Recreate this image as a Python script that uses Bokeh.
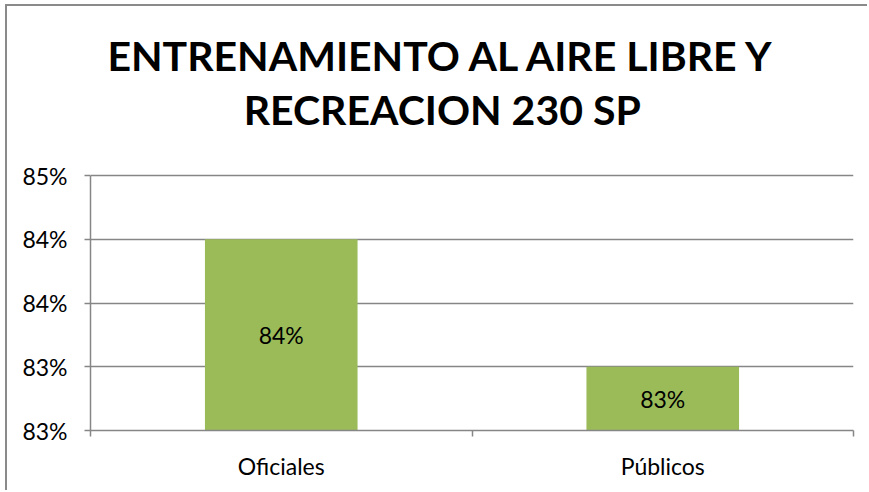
from bokeh.plotting import figure
from bokeh.models import FixedTicker, ColumnDataSource, Range1d
from bokeh.core.properties import value
from bokeh.embed import file_html
from bokeh.resources import INLINE

# ---- data ----
categories = ["Oficiales", "Públicos"]
values = [0.84, 0.83]
value_labels = ["84%", "83%"]
y_ticks = [0.825, 0.830, 0.835, 0.840, 0.845]
y_tick_labels = ["83%", "83%", "84%", "84%", "85%"]
title_lines = ["ENTRENAMIENTO AL AIRE LIBRE Y", "RECREACION 230 SP"]

FONT = "Lato"
GRAY = "#868686"
GREEN = "#9BBB59"

y_min, y_max = y_ticks[0], y_ticks[-1]
span = y_max - y_min
n = len(categories)
xs = [i + 0.5 for i in range(n)]

PLOT_H = 255          # pixel height of the value area
FRAME_H = 424         # frame also holds the title area above the value area
y_top = y_max + span * (FRAME_H - PLOT_H) / PLOT_H

p = figure(
    output_backend="svg", toolbar_location=None,
    frame_width=763, frame_height=FRAME_H,
    min_border_left=83, min_border_right=16,
    min_border_top=0, min_border_bottom=62,
    x_range=Range1d(0, n), y_range=Range1d(y_min, y_top),
)
p.title.visible = False
p.outline_line_color = None
p.background_fill_color = "white"
p.border_fill_color = "white"
p.styles = {"box-shadow": "-2px -2px 0 0 #8a8a8a",
            "margin-left": "7px", "margin-top": "6px"}

src = ColumnDataSource(dict(
    x=xs, top=values, mid=[(y_min + v) / 2 for v in values], lab=value_labels))
p.vbar(x="x", top="top", bottom=y_min, width=0.4, source=src,
       fill_color=GREEN, line_color=None)
p.text(x="x", y="mid", text="lab", source=src, text_align="center",
       text_baseline="middle", text_font_size="23px",
       text_font=value(FONT), text_color="black")

# y axis
ya = p.yaxis[0]
ya.ticker = FixedTicker(ticks=y_ticks)
ya.bounds = (y_min, y_max)
ya.major_label_overrides = {t: l for t, l in zip(y_ticks, y_tick_labels)}
ya.axis_line_color = GRAY
ya.axis_line_width = 1.5
ya.major_tick_line_color = GRAY
ya.major_tick_line_width = 1.5
ya.major_tick_out = 6
ya.major_tick_in = 0
ya.minor_tick_line_color = None
ya.major_label_standoff = 17
ya.major_label_text_font = FONT
ya.major_label_text_font_size = "23px"
ya.major_label_text_color = "black"

# x axis
xa = p.xaxis[0]
xa.ticker = FixedTicker(ticks=xs, minor_ticks=list(range(n + 1)))
xa.major_label_overrides = {x: c for x, c in zip(xs, categories)}
xa.axis_line_color = GRAY
xa.axis_line_width = 1.5
xa.major_tick_line_color = None
xa.major_tick_out = 0
xa.major_tick_in = 0
xa.minor_tick_line_color = GRAY
xa.minor_tick_line_width = 1.5
xa.minor_tick_out = 6
xa.minor_tick_in = 0
xa.major_label_standoff = 15
xa.major_label_text_font = FONT
xa.major_label_text_font_size = "23px"
xa.major_label_text_color = "black"

p.xgrid.grid_line_color = None
p.ygrid.ticker = FixedTicker(ticks=y_ticks)
p.ygrid.grid_line_color = GRAY
p.ygrid.grid_line_width = 1.5

# title: two centered bold lines in the area above the value range
title_src = ColumnDataSource(dict(
    x=[n * 0.461, n * 0.461],
    y=[y_max + span * 120 / PLOT_H, y_max + span * 66 / PLOT_H],
    t=title_lines))
p.text(x="x", y="y", text="t", source=title_src, text_align="center",
       text_baseline="middle", text_font=value(FONT), text_font_style="bold",
       text_font_size="41px", text_color="black")

open("out.html", "w").write(file_html(p, INLINE))
